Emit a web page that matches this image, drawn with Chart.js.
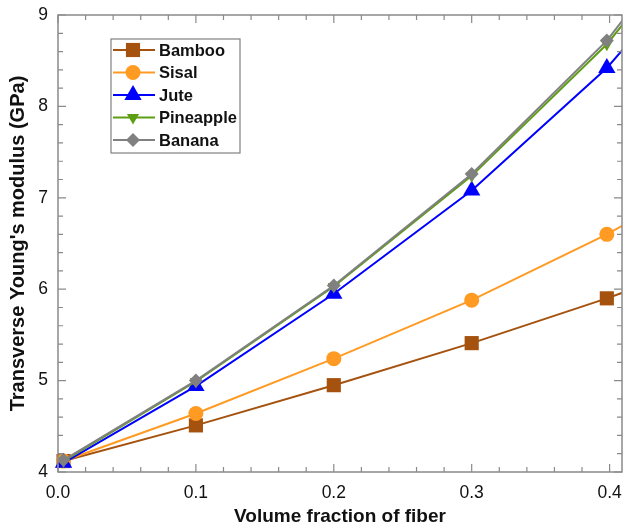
<!DOCTYPE html>
<html><head><meta charset="utf-8">
<script src="https://cdn.jsdelivr.net/npm/chart.js@4"></script>
<style>html,body{margin:0;padding:0;background:#fff}#wrap{width:623px;height:528px}</style>
</head><body><div id="wrap"><canvas id="c" width="623" height="528"></canvas></div>
<script>
const xValues = [0.004, 0.1, 0.2, 0.3, 0.398, 0.5];
const bamboo    = [4.12, 4.51, 4.95, 5.41, 5.90, 6.45];
const sisal     = [4.12, 4.64, 5.24, 5.88, 6.60, 7.45];
const jute      = [4.10, 4.94, 5.95, 7.08, 8.42, 10.2];
const pineapple = [4.12, 4.99, 6.03, 7.24, 8.68, 10.6];
const banana    = [4.13, 5.00, 6.04, 7.26, 8.72, 10.7];
const seriesNames = ['Bamboo','Sisal','Jute','Pineapple','Banana'];
const xTicks = [0.0, 0.1, 0.2, 0.3, 0.4];
const yTicks = [4, 5, 6, 7, 8, 9];

const colors = ['#A5520F','#FF9A22','#0000FF','#5E9E14','#808080'];
const styles = [
  {pointStyle:'rect', radius:10, rotation:0},
  {pointStyle:'circle', radius:7.5, rotation:0},
  {pointStyle:'triangle', radius:10, rotation:0},
  {pointStyle:'triangle', radius:7, rotation:180},
  {pointStyle:'rectRot', radius:7, rotation:0}
];
const allSeries = [bamboo, sisal, jute, pineapple, banana];
const FONT = '"Liberation Sans", Arial, sans-serif';

const datasets = allSeries.map((s,i)=>({
  label: seriesNames[i],
  data: s.map((v,j)=>({x:xValues[j], y:v})),
  borderColor: colors[i], backgroundColor: colors[i],
  borderWidth: 2, pointStyle: styles[i].pointStyle, pointRadius: styles[i].radius,
  pointRotation: styles[i].rotation, pointBorderWidth: 0, pointHoverRadius: styles[i].radius,
  tension: 0, showLine: true, order: 5 - i,
  clip: {left: 12, top: 0, right: 0, bottom: 12}
}));

const framePlugin = {
  id:'frame',
  afterDatasetsDraw(chart){
    const {ctx, chartArea:a, scales:{x, y}} = chart;
    ctx.save();
    ctx.strokeStyle = '#8a8a8a'; ctx.lineWidth = 1.5;
    ctx.strokeRect(a.left, a.top, a.right - a.left, a.bottom - a.top);
    ctx.lineWidth = 1.2;
    for (let k = 0; k <= 20; k++) {
      const v = k * 0.02; if (v > x.max + 1e-9) break;
      const px = x.getPixelForValue(v);
      const major = k % 5 === 0; const L = major ? 8 : 5;
      ctx.beginPath(); ctx.moveTo(px, a.bottom); ctx.lineTo(px, a.bottom - L);
      ctx.moveTo(px, a.top); ctx.lineTo(px, a.top + L); ctx.stroke();
    }
    for (let k = 0; k <= 25; k++) {
      const v = 4 + k * 0.2;
      const py = y.getPixelForValue(v);
      const major = k % 5 === 0; const L = major ? 8 : 5;
      ctx.beginPath(); ctx.moveTo(a.left, py); ctx.lineTo(a.left + L, py);
      ctx.moveTo(a.right, py); ctx.lineTo(a.right - L, py); ctx.stroke();
    }
    ctx.restore();
  },
  afterDraw(chart){
    const {ctx} = chart;
    const bx = 111, by = 39, bw = 129, bh = 114;
    ctx.save();
    ctx.fillStyle = '#fff'; ctx.fillRect(bx, by, bw, bh);
    ctx.strokeStyle = '#808080'; ctx.lineWidth = 1.2; ctx.strokeRect(bx, by, bw, bh);
    ctx.font = 'bold 16.5px ' + FONT;
    ctx.textBaseline = 'middle'; ctx.textAlign = 'left';
    for (let i = 0; i < 5; i++) {
      const cy = by + 11 + i * 22.5;
      ctx.strokeStyle = colors[i]; ctx.lineWidth = 2;
      ctx.beginPath(); ctx.moveTo(bx + 2, cy); ctx.lineTo(bx + 44, cy); ctx.stroke();
      ctx.fillStyle = colors[i];
      Chart.helpers.drawPoint(ctx, {pointStyle: styles[i].pointStyle, radius: styles[i].radius, rotation: styles[i].rotation, borderWidth: 0}, bx + 22, cy);
      ctx.fillStyle = '#111';
      ctx.fillText(seriesNames[i], bx + 48, cy + 1);
    }
    ctx.restore();
  }
};

new Chart(document.getElementById('c'), {
  type: 'scatter',
  data: {datasets},
  options: {
    responsive: false, animation: false, devicePixelRatio: 1,
    layout: {autoPadding: false, padding: {top: 15, right: 1, left: 0, bottom: 0}},
    plugins: {legend: {display: false}, tooltip: {enabled: false}},
    scales: {
      x: {
        type: 'linear', min: 0, max: 0.409,
        afterBuildTicks: s => { s.ticks = xTicks.map(v => ({value: v})); },
        afterFit: s => { s.height = 56; s.paddingLeft = 0; s.paddingRight = 0; },
        grid: {display: false, drawTicks: false},
        border: {display: false},
        ticks: {padding: 11, color: '#111', font: {size: 17.5, family: FONT}, callback: v => v.toFixed(1), maxRotation: 0, autoSkip: false},
        title: {display: true, text: 'Volume fraction of fiber', color: '#111', font: {size: 19, weight: 'bold', family: FONT}, padding: {top: 2, bottom: 0}}
      },
      y: {
        type: 'linear', min: 4, max: 9,
        afterBuildTicks: s => { s.ticks = yTicks.map(v => ({value: v})); },
        afterFit: s => { s.width = 58; s.paddingTop = 0; s.paddingBottom = 0; },
        grid: {display: false, drawTicks: false},
        border: {display: false},
        ticks: {padding: 10, color: '#111', font: {size: 17.5, family: FONT}, callback: v => String(v)},
        title: {display: true, text: "Transverse Young's modulus (GPa)", color: '#111', font: {size: 20, weight: 'bold', family: FONT}, padding: {top: 6, bottom: 0}}
      }
    }
  },
  plugins: [framePlugin]
});
</script></body></html>
